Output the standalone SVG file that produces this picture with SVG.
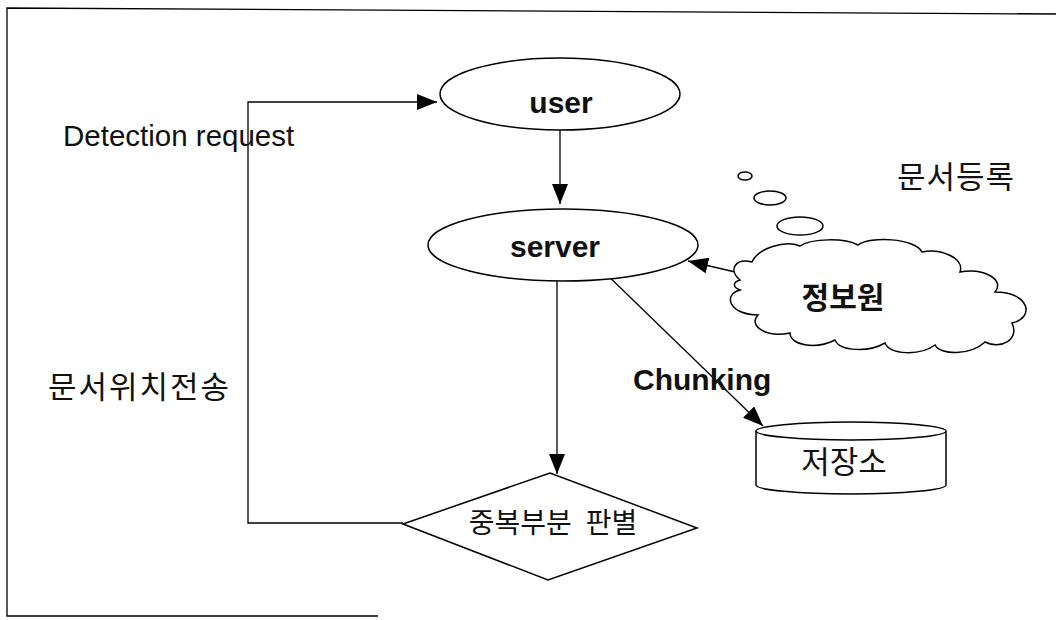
<svg xmlns="http://www.w3.org/2000/svg" width="1056" height="620" viewBox="0 0 1056 620">
<defs>
<style>
.ln{stroke:#000;stroke-width:1.3;fill:none}
.sh{stroke:#000;stroke-width:1.5;fill:#fff}
.t{font-family:"Liberation Sans","Noto Sans CJK KR",sans-serif;fill:#111}
.b{font-weight:bold}
</style>
<marker id="ah" viewBox="0 0 20 16" refX="20" refY="8" markerWidth="20" markerHeight="16" markerUnits="userSpaceOnUse" orient="auto">
<path d="M0,0 L20,8 L0,16 Z" fill="#000"/>
</marker>
</defs>
<rect width="1056" height="620" fill="#fff"/>
<g id="frame">
<path class="ln" d="M1056,14 L7,8 L7,616 L378,616"/>
</g>
<g id="connectors">
<path class="ln" d="M403,523 L248,523 L248,102 L437,102" marker-end="url(#ah)"/>
<path class="ln" d="M560,130 L560,204" marker-end="url(#ah)"/>
<path class="ln" d="M557,281 L557,474" marker-end="url(#ah)"/>
<path class="ln" d="M748,275 L688,261" marker-end="url(#ah)"/>
<path class="ln" d="M600,268 L763,426" marker-end="url(#ah)"/>
</g>
<g id="user">
<ellipse class="sh" cx="560" cy="94" rx="120" ry="36"/>
<text class="t b" x="561" y="113" font-size="30" text-anchor="middle">user</text>
</g>
<g id="server">
<ellipse class="sh" cx="563" cy="245" rx="135" ry="36"/>
<text class="t b" x="555" y="257" font-size="30" text-anchor="middle">server</text>
</g>
<g id="source">
<ellipse class="sh" cx="745" cy="176" rx="7" ry="4"/>
<ellipse class="sh" cx="770" cy="198" rx="16" ry="7"/>
<ellipse class="sh" cx="800" cy="226" rx="23" ry="9"/>
<path class="sh" d="M740,280 C728,270 735,258 752,262 C758,248 785,240 800,246 C812,238 845,238 858,245 C870,236 915,238 922,252 C940,248 965,258 960,272 C985,268 1005,280 995,292 C1030,292 1035,318 1012,323 C1020,340 1000,350 985,342 C970,356 940,355 935,345 C920,356 890,355 885,343 C870,352 840,352 835,340 C815,350 790,345 790,333 C765,338 748,325 758,315 C730,315 722,295 740,290 C732,287 733,282 740,280 Z"/>
<text class="t b" x="843" y="308" font-size="30" text-anchor="middle">정보원</text>
</g>
<g id="storage">
<path class="sh" d="M756,431 L756,485 A95,9 0 0 0 946,485 L946,431"/>
<ellipse class="sh" cx="851" cy="431" rx="95" ry="9"/>
<text class="t" x="844" y="473" font-size="31" text-anchor="middle">저장소</text>
</g>
<g id="decision">
<polygon class="sh" points="403,524 550,473 697,528 548,580"/>
<text class="t" x="553" y="533" font-size="28" word-spacing="6" text-anchor="middle">중복부분 판별</text>
</g>
<g id="labels">
<text class="t" x="63" y="146" font-size="29.5">Detection request</text>
<text class="t" x="48" y="398" font-size="31" letter-spacing="2">문서위치전송</text>
<text class="t" x="897" y="188" font-size="31" letter-spacing="1">문서등록</text>
<text class="t b" x="633" y="390" font-size="30">Chunking</text>
</g>
</svg>
